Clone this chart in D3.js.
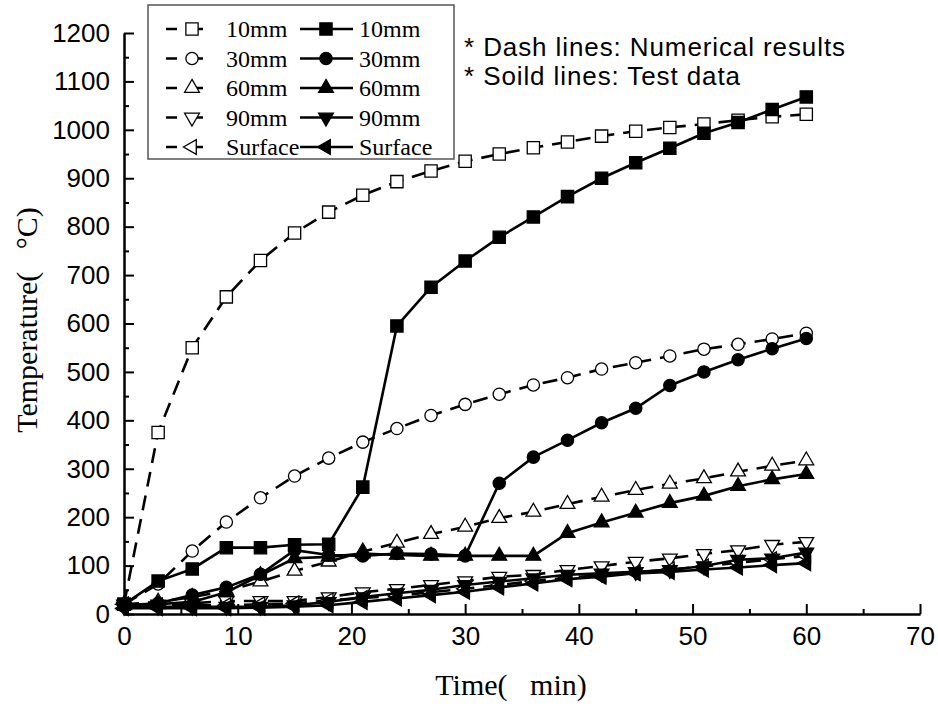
<!DOCTYPE html>
<html>
<head>
<meta charset="utf-8">
<script src="https://cdn.jsdelivr.net/npm/d3@7"></script>
<style>
  body { margin: 0; background: #fff; }
  svg { display: block; }
  .tick-label text { font-family: "Liberation Sans", Arial, sans-serif; font-size: 26px; fill: #000; }
</style>
</head>
<body>
<svg id="chart" width="938" height="706"></svg>
<script>
// time steps (min)
const times = [0, 3, 6, 9, 12, 15, 18, 21, 24, 27, 30, 33, 36, 39, 42, 45, 48, 51, 54, 57, 60];

// numerical results (dashed lines)
const num10   = [20, 375, 550, 655, 730, 787, 830, 865, 893, 915, 935, 950, 963, 975, 987, 997, 1005, 1012, 1020, 1027, 1032];
const num30   = [20, 62, 130, 190, 240, 285, 322, 355, 383, 410, 433, 454, 473, 488, 506, 519, 533, 547, 557, 568, 580];
const num60   = [20, 25, 35, 48, 67, 89, 108, 129, 147, 165, 180, 198, 211, 227, 242, 256, 269, 280, 294, 306, 317];
const num90   = [20, 20, 22, 27, 27, 27, 35, 45, 52, 60, 68, 77, 81, 91, 99, 108, 115, 124, 132, 143, 149];
const numSurf = [20, 18, 18, 18, 20, 22, 28, 33, 38, 45, 52, 60, 68, 75, 80, 86, 92, 98, 106, 113, 120];

// test data (solid lines)
const exp10   = [20, 68, 93, 137, 137, 143, 144, 262, 595, 675, 729, 778, 820, 862, 900, 932, 962, 993, 1015, 1042, 1068];
const exp30   = [18, 22, 39, 55, 82, 132, 122, 120, 125, 124, 120, 270, 324, 359, 395, 425, 472, 500, 525, 548, 569];
const exp60   = [18, 20, 25, 45, 80, 115, 118, 125, 122, 120, 120, 120, 120, 167, 189, 209, 229, 244, 264, 278, 289];
const exp90   = [15, 15, 15, 15, 15, 18, 25, 35, 43, 50, 60, 67, 74, 81, 84, 87, 91, 99, 112, 115, 127];
const expSurf = [12, 12, 12, 12, 13, 15, 18, 25, 32, 39, 46, 55, 63, 72, 77, 84, 87, 92, 96, 101, 105];

const xTicks = [0, 10, 20, 30, 40, 50, 60, 70];
const yTicks = [0, 100, 200, 300, 400, 500, 600, 700, 800, 900, 1000, 1100, 1200];

const labels = ['10mm', '30mm', '60mm', '90mm', 'Surface'];
const shapes = ['square', 'circle', 'up', 'down', 'left'];

const series = [
  { name: '10mm',    shape: 'square', dashed: true,  values: num10 },
  { name: '30mm',    shape: 'circle', dashed: true,  values: num30 },
  { name: '60mm',    shape: 'up',     dashed: true,  values: num60 },
  { name: '90mm',    shape: 'down',   dashed: true,  values: num90 },
  { name: 'Surface', shape: 'left',   dashed: true,  values: numSurf },
  { name: '10mm',    shape: 'square', dashed: false, values: exp10 },
  { name: '30mm',    shape: 'circle', dashed: false, values: exp30 },
  { name: '60mm',    shape: 'up',     dashed: false, values: exp60 },
  { name: '90mm',    shape: 'down',   dashed: false, values: exp90 },
  { name: 'Surface', shape: 'left',   dashed: false, values: expSurf }
];

const svg = d3.select('#chart');
const x = d3.scaleLinear().domain([0, 70]).range([124, 920]);
const y = d3.scaleLinear().domain([0, 1200]).range([614, 33]);

const dash = '15,9';
const serif = '"Liberation Serif", "Times New Roman", serif';

// marker path per shape
function markerPath(shape) {
  if (shape === 'square') return d3.symbol(d3.symbolSquare, 150)();
  if (shape === 'circle') return d3.symbol(d3.symbolCircle, 118)();
  return d3.symbol(d3.symbolTriangle, 95)();
}
function markerRotate(shape) {
  if (shape === 'down') return 180;
  if (shape === 'left') return -90;
  return 0;
}
function drawMarker(g, shape, filled, cx, cy) {
  g.append('path')
    .attr('d', markerPath(shape))
    .attr('transform', `translate(${cx},${cy}) rotate(${markerRotate(shape)})`)
    .attr('fill', filled ? '#000' : '#fff')
    .attr('stroke', '#000')
    .attr('stroke-width', 1.3);
}

// --- Axes ---
const yAxisMinor = d3.axisLeft(y).tickValues(d3.range(50, 1200, 100)).tickSizeInner(-5).tickSizeOuter(0).tickFormat('');
const yAxis = d3.axisLeft(y).tickValues(yTicks).tickSizeInner(-10).tickSizeOuter(0).tickPadding(14).tickFormat(d3.format('d'));
const xAxisMinor = d3.axisBottom(x).tickValues(d3.range(5, 70, 10)).tickSizeInner(-5).tickSizeOuter(0).tickFormat('');
const xAxis = d3.axisBottom(x).tickValues(xTicks).tickSizeInner(-10).tickSizeOuter(0).tickPadding(13).tickFormat(d3.format('d'));

svg.append('g').attr('transform', `translate(${x(0)},0)`).call(yAxisMinor);
svg.append('g').attr('class', 'tick-label').attr('transform', `translate(${x(0)},0)`).call(yAxis);
svg.append('g').attr('transform', `translate(0,${y(0)})`).call(xAxisMinor);
svg.append('g').attr('class', 'tick-label').attr('transform', `translate(0,${y(0)})`).call(xAxis);
svg.selectAll('.domain, .tick line').attr('stroke', '#000').attr('stroke-width', 2);

// --- Series ---
const line = d3.line().x((d, i) => x(times[i])).y(d => y(d));
const plot = svg.append('g');
series.forEach(s => {
  const g = plot.append('g');
  g.append('path')
    .datum(s.values)
    .attr('d', line)
    .attr('fill', 'none')
    .attr('stroke', '#000')
    .attr('stroke-width', 2.6)
    .attr('stroke-dasharray', s.dashed ? dash : null);
  s.values.forEach((v, i) => drawMarker(g, s.shape, !s.dashed, x(times[i]), y(v)));
});

// --- Axis titles ---
svg.append('text')
  .attr('x', 511).attr('y', 695)
  .attr('text-anchor', 'middle')
  .attr('fill', '#000')
  .style('font-family', serif)
  .style('font-size', '30px')
  .text('Time(\u2002 min)');

svg.append('text')
  .attr('transform', 'translate(37,320) rotate(-90)')
  .attr('text-anchor', 'middle')
  .attr('fill', '#000')
  .style('font-family', serif)
  .style('font-size', '30px')
  .text('Temperature(\u2002 °C)');

// --- Legend ---
const legend = svg.append('g');
legend.append('rect')
  .attr('x', 148).attr('y', 5).attr('width', 306).attr('height', 154)
  .attr('fill', '#fff').attr('stroke', '#555').attr('stroke-width', 1.5);

const rowY = d3.scalePoint().domain(labels).range([29, 147]);
labels.forEach((lab, i) => {
  const cy = rowY(lab);
  legend.append('line')
    .attr('x1', 166).attr('x2', 207).attr('y1', cy).attr('y2', cy)
    .attr('stroke', '#000').attr('stroke-width', 2.6).attr('stroke-dasharray', '11,15');
  drawMarker(legend, shapes[i], false, 192, cy);
  legend.append('line')
    .attr('x1', 300).attr('x2', 353).attr('y1', cy).attr('y2', cy)
    .attr('stroke', '#000').attr('stroke-width', 2.6);
  drawMarker(legend, shapes[i], true, 326, cy);
  [226, 359].forEach(tx => legend.append('text')
    .attr('x', tx).attr('y', cy + 8)
    .style('font-family', serif)
    .style('font-size', '24px')
    .text(lab));
});

// --- Notes ---
const notes = ['* Dash lines: Numerical results', '* Soild lines: Test data'];
notes.forEach((n, i) => svg.append('text')
  .attr('x', 464).attr('y', 56 + i * 29)
  .style('font-family', '"Liberation Sans", Arial, sans-serif')
  .style('font-size', '26px')
  .style('letter-spacing', '0.9px')
  .text(n));
</script>
</body>
</html>
